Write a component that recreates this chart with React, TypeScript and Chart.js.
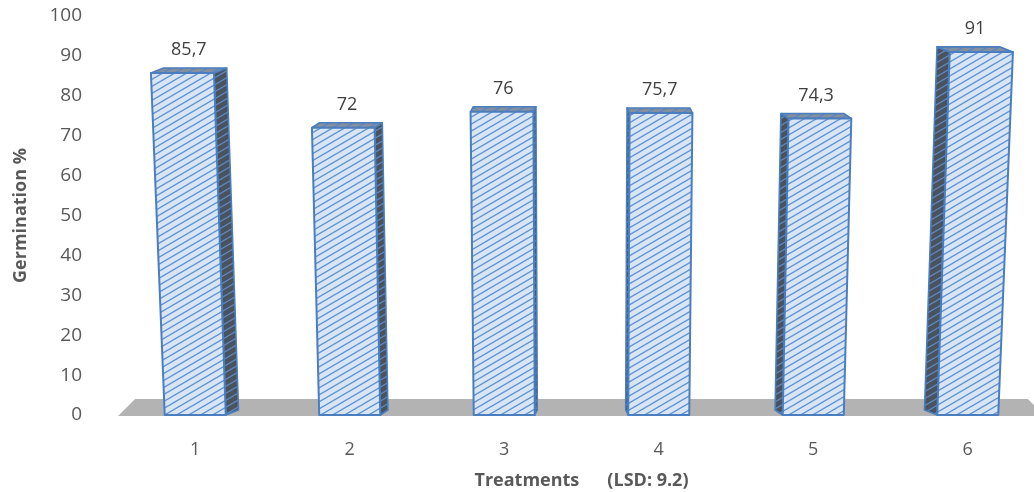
import React, { useEffect, useRef } from 'react';
import { Chart, registerables } from 'chart.js';

Chart.register(...registerables);

const categories: string[] = ['1', '2', '3', '4', '5', '6'];
const germination: number[] = [85.7, 72, 76, 75.7, 74.3, 91];
const yMin = 0;
const yMax = 100;
const yStep = 10;
const yTitle = 'Germination %';
const xTitle = 'Treatments      (LSD: 9.2)';

const FONT = "'Open Sans', 'DejaVu Sans', sans-serif";

function makePattern(bg: string, line: string, W: number, H: number, lw: number): CanvasPattern | string {
  const c = document.createElement('canvas');
  c.width = W;
  c.height = H;
  const g = c.getContext('2d');
  if (!g) return bg;
  g.fillStyle = bg;
  g.fillRect(0, 0, W, H);
  g.strokeStyle = line;
  g.lineWidth = lw;
  for (const n of [-1, 0, 1]) {
    g.beginPath();
    g.moveTo(-W, H * (2 + n));
    g.lineTo(2 * W, H * (n - 1));
    g.stroke();
  }
  return g.createPattern(c, 'repeat') || bg;
}

const prismPlugin = {
  id: 'prism',
  beforeDatasetsDraw(chart: any) {
    const { ctx, chartArea } = chart;
    const base = chart.scales.y.getPixelForValue(0);
    const L = chartArea.left;
    const R = chartArea.right;
    const V = (L + R) / 2;
    const fd = 16;
    const fk = 0.037;
    ctx.save();
    ctx.fillStyle = '#b3b3b3';
    ctx.beginPath();
    ctx.moveTo(L, base + 1);
    ctx.lineTo(R, base + 1);
    ctx.lineTo(R - (R - V) * fk, base - fd);
    ctx.lineTo(L + (V - L) * fk, base - fd);
    ctx.closePath();
    ctx.fill();
    ctx.restore();
  },
  afterDatasetsDraw(chart: any) {
    const { ctx, chartArea } = chart;
    const V = (chartArea.left + chartArea.right) / 2;
    const frontPat = makePattern('#d8e5f4', '#6192d3', 12, 7, 1.4);
    const sidePat = makePattern('#48535f', '#6287bb', 12, 7, 1.3);
    const topPat = makePattern('#84909d', '#5a86c4', 12, 7, 1.3);
    const edge = '#4a7ebf';
    const meta = chart.getDatasetMeta(0);
    const values = chart.data.datasets[0].data as number[];
    meta.data.forEach((el: any, i: number) => {
      const { x, y, base, width } = el.getProps(['x', 'y', 'base', 'width'], true);
      const h = base - y;
      const lean = 9.7e-5;
      const hw = width / 2;
      const bl = x - hw;
      const br = x + hw;
      const tl = bl + (bl - V) * h * lean;
      const tr = br + (br - V) * h * lean;
      const dx = (V - x) * 0.033;
      const dy = 5;

      ctx.save();
      ctx.lineJoin = 'round';
      ctx.strokeStyle = edge;
      ctx.lineWidth = 1.6;

      // side face
      ctx.beginPath();
      if (dx >= 0) {
        ctx.moveTo(br, base);
        ctx.lineTo(tr, y);
        ctx.lineTo(tr + dx, y - dy);
        ctx.lineTo(br + dx, base - dy);
      } else {
        ctx.moveTo(bl, base);
        ctx.lineTo(tl, y);
        ctx.lineTo(tl + dx, y - dy);
        ctx.lineTo(bl + dx, base - dy);
      }
      ctx.closePath();
      ctx.fillStyle = sidePat;
      ctx.fill();
      ctx.stroke();

      // top face
      ctx.beginPath();
      ctx.moveTo(tl, y);
      ctx.lineTo(tr, y);
      ctx.lineTo(tr + dx, y - dy);
      ctx.lineTo(tl + dx, y - dy);
      ctx.closePath();
      ctx.fillStyle = topPat;
      ctx.fill();
      ctx.stroke();

      // front face
      ctx.beginPath();
      ctx.moveTo(bl, base);
      ctx.lineTo(br, base);
      ctx.lineTo(tr, y);
      ctx.lineTo(tl, y);
      ctx.closePath();
      ctx.fillStyle = frontPat;
      ctx.fill();
      ctx.lineWidth = 2;
      ctx.stroke();

      // value label
      const label = String(values[i]).replace('.', ',');
      ctx.fillStyle = '#404040';
      ctx.font = `18px ${FONT}`;
      ctx.textAlign = 'center';
      ctx.textBaseline = 'middle';
      ctx.fillText(label, (tl + tr) / 2 + dx / 2, y - 23);
      ctx.restore();
    });
  },
};

export default function App() {
  const canvasRef = useRef<HTMLCanvasElement | null>(null);

  useEffect(() => {
    const canvas = canvasRef.current;
    if (!canvas) return;
    const chart = new Chart(canvas, {
      type: 'bar',
      data: {
        labels: categories,
        datasets: [
          {
            data: germination,
            backgroundColor: 'rgba(0,0,0,0)',
            borderWidth: 0,
            barPercentage: 0.395,
            categoryPercentage: 1,
          },
        ],
      },
      options: {
        animation: false,
        responsive: false,
        layout: { padding: { top: 16, right: 15, left: 0, bottom: 0 } },
        plugins: {
          legend: { display: false },
          tooltip: { enabled: false },
        },
        scales: {
          x: {
            offset: true,
            grid: { display: false, drawTicks: false },
            border: { display: false },
            ticks: { color: '#595959', font: { family: FONT, size: 18 }, padding: 24 },
            title: {
              display: true,
              text: xTitle,
              color: '#595959',
              font: { family: FONT, size: 18, weight: 'bold' },
              padding: { top: 0, bottom: 0 },
            },
            afterFit: (s: any) => {
              s.height = 77;
            },
          },
          y: {
            min: yMin,
            max: yMax,
            grid: { display: false, drawTicks: true, tickLength: 32 },
            border: { display: false },
            ticks: {
              stepSize: yStep,
              color: '#595959',
              font: { family: FONT, size: 19 },
              padding: 4,
            },
            title: {
              display: true,
              text: yTitle,
              color: '#595959',
              font: { family: FONT, size: 18, weight: 'bold' },
              padding: { top: 10, bottom: 0 },
            },
            afterFit: (s: any) => {
              s.width = 118;
            },
          },
        },
      },
      plugins: [prismPlugin],
    } as any);
    return () => chart.destroy();
  }, []);

  return (
    <div style={{ position: 'absolute', left: 0, top: 0, width: 1034, height: 492, overflow: 'hidden', background: '#fff' }}>
      <canvas ref={canvasRef} width={1060} height={492} style={{ display: 'block' }} />
    </div>
  );
}
